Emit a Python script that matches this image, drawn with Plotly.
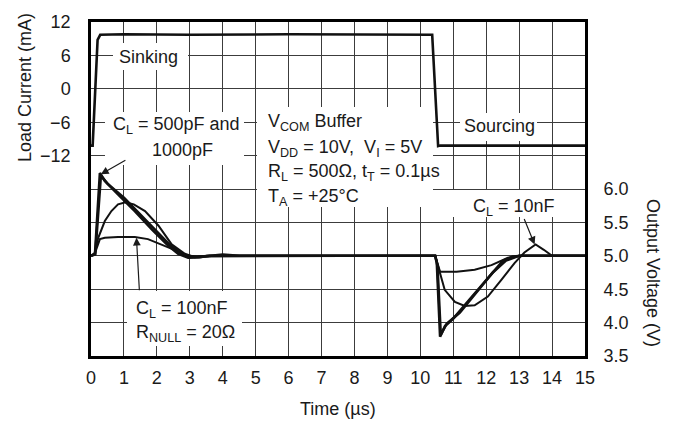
import plotly.graph_objects as go

# load current (mA) vs time (us)
t_load = [0, 0.05, 0.2, 0.28, 1.0, 3.0, 6.0, 9.0, 10.36, 10.54, 10.6, 11, 13, 15]
i_load = [-10.2, -10.2, 8.8, 9.7, 9.8, 9.7, 9.8, 9.7, 9.7, -10.3, -10.2, -10.2, -10.2, -10.2]

# output voltage (V), CL = 500pF
t_500p = [0, 0.12, 0.27, 0.42, 0.82, 1.33, 1.84, 2.35, 2.65, 2.95, 3.25, 3.6, 4.0, 4.5,
          10.45, 10.5, 10.6, 10.75, 11.0, 11.5, 12.0, 12.5, 12.8, 13.1, 15]
v_500p = [5.0, 5.02, 6.24, 6.12, 5.92, 5.67, 5.40, 5.15, 5.03, 4.97, 4.98, 5.0, 5.02, 5.0,
          5.0, 4.9, 3.79, 3.95, 4.06, 4.35, 4.64, 4.92, 4.99, 5.0, 5.0]

# CL = 1000pF
t_1n = [0, 0.13, 0.3, 0.5, 1.0, 1.5, 2.0, 2.4, 2.7, 3.0, 3.3, 3.6,
        10.45, 10.52, 10.62, 10.8, 11.2, 11.7, 12.2, 12.6, 13.0, 15]
v_1n = [5.0, 5.03, 6.2, 6.08, 5.87, 5.62, 5.36, 5.16, 5.05, 4.98, 4.98, 5.0,
        5.0, 4.85, 3.82, 3.98, 4.15, 4.45, 4.75, 4.93, 5.0, 5.0]

# CL = 10nF
t_10n = [0, 0.1, 0.22, 0.42, 0.62, 0.82, 1.05, 1.3, 1.64, 2.05, 2.45, 2.85, 3.15, 3.5,
         10.45, 10.56, 10.74, 11.05, 11.35, 11.65, 12.05, 12.46, 12.86, 13.16, 13.5, 13.75, 14.0, 14.5, 15]
v_10n = [5.0, 5.02, 5.27, 5.52, 5.67, 5.77, 5.80, 5.77, 5.67, 5.45, 5.17, 5.03, 4.98, 5.0,
         5.0, 4.79, 4.49, 4.31, 4.25, 4.26, 4.39, 4.64, 4.89, 5.05, 5.17, 5.09, 5.0, 5.0, 5.0]

# CL = 100nF, RNULL = 20 ohm
t_100n = [0, 0.12, 0.27, 0.42, 0.82, 1.33, 1.73, 2.14, 2.55, 2.95, 3.3,
          10.45, 10.6, 11.1, 11.65, 12.16, 12.66, 13.0, 15]
v_100n = [5.0, 5.04, 5.25, 5.27, 5.28, 5.28, 5.25, 5.17, 5.085, 5.0, 4.99,
          5.0, 4.76, 4.76, 4.79, 4.86, 4.97, 5.0, 5.0]

x_ticks = list(range(0, 16))
i_ticks = [12, 6, 0, -6, -12, -18, -24, -30, -36, -42, -48]
i_labels = ['12', '6', '0', '\u22126', '\u221212', '', '', '', '', '', '']
v_ticks = [3.5, 4.0, 4.5, 5.0, 5.5, 6.0]
v_labels = ['3.5', '4.0', '4.5', '5.0', '5.5', '6.0']

FONT = "Liberation Sans, Arial, Helvetica, sans-serif"
INK = "#1a1a1a"
FS = 18

# plot area in pixels
L, R, T, B = 91, 585, 22, 356
W, H = 674, 422


def px(x):
    return (x - L) / (R - L)


def py(y):
    return (B - y) / (B - T)


fig = go.Figure()
line_kw = dict(mode='lines', hoverinfo='skip', showlegend=False)
fig.add_trace(go.Scatter(x=t_load, y=i_load, line=dict(color='#111', width=2.6), **line_kw))
fig.add_trace(go.Scatter(x=t_100n, y=v_100n, yaxis='y2', line=dict(color='#111', width=2), **line_kw))
fig.add_trace(go.Scatter(x=t_10n, y=v_10n, yaxis='y2', line=dict(color='#111', width=2), **line_kw))
fig.add_trace(go.Scatter(x=t_1n, y=v_1n, yaxis='y2', line=dict(color='#111', width=2.6), **line_kw))
fig.add_trace(go.Scatter(x=t_500p, y=v_500p, yaxis='y2', line=dict(color='#111', width=2.6), **line_kw))

annotations = []

# white boxes behind the labels, hiding the grid
boxes = [(113, 43, 188, 70), (105, 112, 244, 165), (257, 107, 433, 207),
         (460, 113, 537, 141), (445, 190, 565, 217), (127, 291, 242, 346)]
for x0, y0, x1, y1 in boxes:
    annotations.append(dict(text=' ', xref='paper', yref='paper', x=px((x0 + x1) / 2),
                            y=py((y0 + y1) / 2), xanchor='center', yanchor='middle',
                            width=x1 - x0, height=y1 - y0, bgcolor='white', borderpad=0,
                            borderwidth=0, showarrow=False))


def label(text, x, y, anchor='left', angle=0):
    annotations.append(dict(text=text, xref='paper', yref='paper', x=px(x), y=py(y),
                            xanchor=anchor, yanchor='middle', showarrow=False,
                            textangle=angle, font=dict(family=FONT, size=FS, color=INK)))


label('Sinking', 148, 57, 'center')
label('C<sub>L</sub> = 500pF and', 176, 125, 'center')
label('1000pF', 182, 150, 'center')
label('V<sub>COM</sub> Buffer', 266, 122)
label('V<sub>DD</sub> = 10V,  V<sub>I</sub> = 5V', 266, 148)
label('R<sub>L</sub> = 500\u03a9, t<sub>T</sub> = 0.1\u00b5s', 266, 173)
label('T<sub>A</sub> = +25\u00b0C', 266, 198)
label('Sourcing', 462, 126)
label('C<sub>L</sub> = 10nF', 471, 207)
label('C<sub>L</sub> = 100nF', 134, 309)
label('R<sub>NULL</sub> = 20\u03a9', 134, 333)

label('Load Current (mA)', 25, 88, 'center', -90)
label('Output Voltage (V)', 653, 273, 'center', 90)
label('Time (\u00b5s)', 338, 409, 'center')

# arrows
arrow_kw = dict(xref='x', yref='y2', showarrow=True, arrowhead=2, arrowsize=1.3,
                arrowwidth=1.2, arrowcolor=INK, text='')
annotations.append(dict(x=0.3, y=6.22, ax=26, ay=-15, **arrow_kw))
annotations.append(dict(x=1.38, y=5.27, ax=3, ay=54, **arrow_kw))
annotations.append(dict(x=13.47, y=5.17, ax=-11, ay=-27, **arrow_kw))

grid = '#3c3c3c'
hidden_ticks = dict(ticks='outside', tickcolor='rgba(0,0,0,0)', tickwidth=1)
fig.update_layout(
    width=W, height=H,
    margin=dict(l=L, r=W - R, t=T, b=H - B),
    paper_bgcolor='white', plot_bgcolor='white',
    font=dict(family=FONT, size=FS, color=INK),
    annotations=annotations,
    xaxis=dict(range=[0, 15], tickvals=x_ticks, showgrid=True, gridcolor=grid, gridwidth=1,
               zeroline=False, showline=True, mirror=True, linecolor='#000', linewidth=2.5,
               ticklen=4, fixedrange=True, **hidden_ticks),
    yaxis=dict(range=[-48, 12], tickvals=i_ticks, ticktext=i_labels, showgrid=True,
               gridcolor=grid, gridwidth=1, zeroline=False, showline=True, mirror=True,
               linecolor='#000', linewidth=2.5, ticklen=14, fixedrange=True, **hidden_ticks),
    yaxis2=dict(range=[3.5, 8.5], overlaying='y', side='right', tickvals=v_ticks,
                ticktext=v_labels, showgrid=False,
                zeroline=False, showline=False, ticklen=14, fixedrange=True, **hidden_ticks),
)

fig.write_html("out.html", config={'displayModeBar': False},
               post_script="document.body.style.margin='0px';")
